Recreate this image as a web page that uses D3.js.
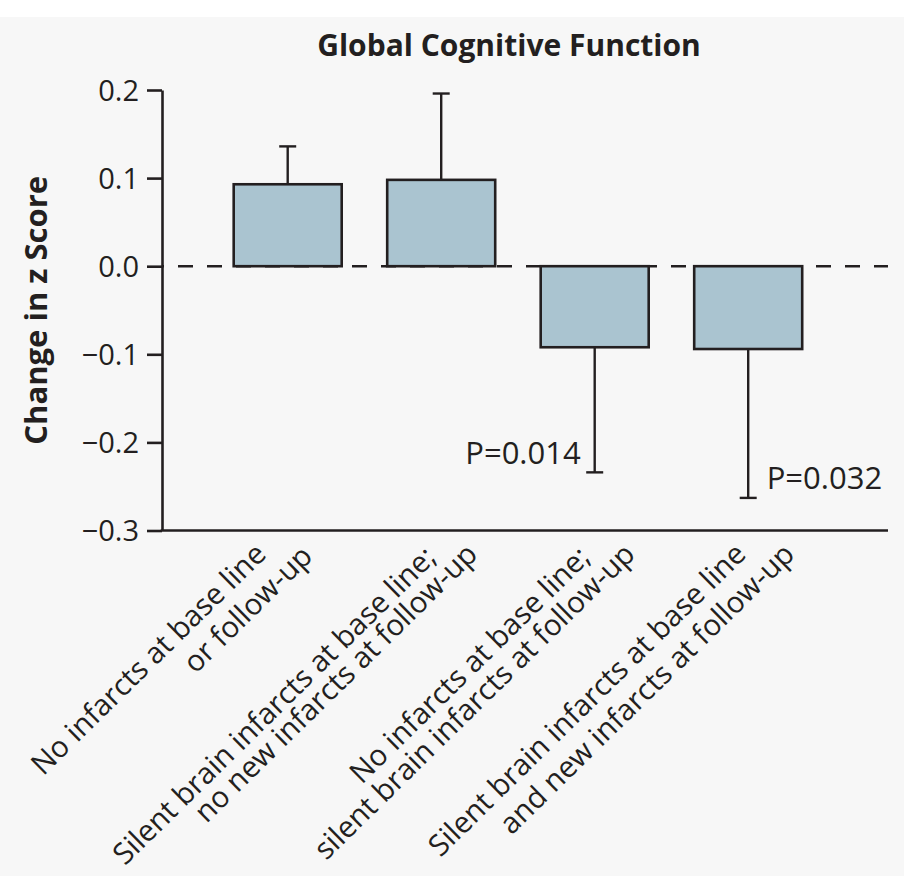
<!DOCTYPE html>
<html><head><meta charset="utf-8">
<script src="https://cdn.jsdelivr.net/npm/d3@7"></script>
<style>html,body{margin:0;padding:0;background:#f7f7f7;} svg{display:block;}</style>
</head><body>
<svg id="chart" width="904" height="876"></svg>
<script>
// ---- data ----
const chartTitle = "Global Cognitive Function";
const yAxisTitle = "Change in z Score";
const categories = ["A", "B", "C", "D"];
const categoryLabels = [
  ["No infarcts at base line", "or follow-up"],
  ["Silent brain infarcts at base line;", "no new infarcts at follow-up"],
  ["No infarcts at base line;", "silent brain infarcts at follow-up"],
  ["Silent brain infarcts at base line", "and new infarcts at follow-up"]
];
const meanChange = [0.093, 0.098, -0.092, -0.094];
const errorEnd = [0.136, 0.196, -0.234, -0.263];
const pLabels = [null, null, "P=0.014", "P=0.032"];
const yTickValues = [0.2, 0.1, 0.0, -0.1, -0.2, -0.3];

// ---- layout (not data) ----
const ink = "#231f20";
const barFill = "#aac4d0";
const font = "'Open Sans', 'Noto Sans', sans-serif";
const axisX = 162, axisRight = 888;
const labelShift = [[-20, 26.5], [-3.5, 38], [-3, 42], [-0.5, 48]];
const labelBase = [[556, 558], [559, 556], [559, 556], [556, 556]];
const labelAngle = -44.5;
const pSide = [0, 0, -1, 1];

const svg = d3.select("#chart");
svg.append("rect").attr("width", 904).attr("height", 876).attr("fill", "#f7f7f7");
svg.append("rect").attr("width", 904).attr("height", 17).attr("fill", "#ffffff");

const x = d3.scaleBand().domain(categories).range([210.95, 824.95])
  .paddingInner(0.2964).paddingOuter(0.1482);
const y = d3.scaleLinear().domain([-0.3, 0.2]).range([530.5, 90]);

// title
svg.append("text").attr("x", 509).attr("y", 56).attr("text-anchor", "middle")
  .attr("font-family", font).attr("font-weight", 700).attr("font-size", 30)
  .attr("fill", ink).text(chartTitle);

// y title
svg.append("text").attr("transform", `translate(47,${(y(0.2)+y(-0.3))/2}) rotate(-90)`)
  .attr("text-anchor", "middle").attr("font-family", font).attr("font-weight", 700)
  .attr("font-size", 31).attr("fill", ink).text(yAxisTitle);

// dashed zero line
svg.append("line").attr("x1", axisX).attr("x2", axisRight)
  .attr("y1", y(0)).attr("y2", y(0))
  .attr("stroke", ink).attr("stroke-width", 2.4)
  .attr("stroke-dasharray", "15,14").attr("stroke-dashoffset", 13);

const g = svg.append("g");
const idx = d3.range(categories.length);

// error bars
g.selectAll("line.err").data(idx).join("line").attr("class", "err")
  .attr("x1", i => x(categories[i]) + x.bandwidth()/2)
  .attr("x2", i => x(categories[i]) + x.bandwidth()/2)
  .attr("y1", i => y(meanChange[i])).attr("y2", i => y(errorEnd[i]))
  .attr("stroke", ink).attr("stroke-width", 2.4);
g.selectAll("line.cap").data(idx).join("line").attr("class", "cap")
  .attr("x1", i => x(categories[i]) + x.bandwidth()/2 - 8.5)
  .attr("x2", i => x(categories[i]) + x.bandwidth()/2 + 8.5)
  .attr("y1", i => y(errorEnd[i])).attr("y2", i => y(errorEnd[i]))
  .attr("stroke", ink).attr("stroke-width", 2.4);

// bars
g.selectAll("rect.bar").data(idx).join("rect").attr("class", "bar")
  .attr("x", i => x(categories[i]))
  .attr("width", x.bandwidth())
  .attr("y", i => y(Math.max(0, meanChange[i])))
  .attr("height", i => Math.abs(y(meanChange[i]) - y(0)))
  .attr("fill", barFill).attr("stroke", ink).attr("stroke-width", 2.6);

// p-value labels
g.selectAll("text.p").data(idx.filter(i => pLabels[i])).join("text").attr("class", "p")
  .attr("x", i => x(categories[i]) + x.bandwidth()/2 + (pSide[i] < 0 ? -14 : 18.5))
  .attr("y", i => y(errorEnd[i]) - 8.5)
  .attr("text-anchor", i => pSide[i] < 0 ? "end" : "start")
  .attr("font-family", font).attr("font-size", 31).attr("fill", ink)
  .text(i => pLabels[i]);

// y axis
const yAxis = d3.axisLeft(y).tickValues(yTickValues).tickFormat(d3.format(".1f"))
  .tickSize(15).tickSizeOuter(0).tickPadding(8);
const ya = svg.append("g").attr("transform", `translate(${axisX},0)`).call(yAxis);
ya.select(".domain").attr("stroke", ink).attr("stroke-width", 2.6);
ya.selectAll(".tick line").attr("stroke", ink).attr("stroke-width", 2.6);
ya.selectAll(".tick text").attr("font-family", font).attr("font-size", 29)
  .attr("fill", ink).attr("dy", "0.36em");

// x axis line
svg.append("line").attr("x1", axisX - 1.3).attr("x2", axisRight)
  .attr("y1", y(-0.3)).attr("y2", y(-0.3))
  .attr("stroke", ink).attr("stroke-width", 2.6);

// category labels
idx.forEach(i => {
  const cx = x(categories[i]) + x.bandwidth()/2;
  categoryLabels[i].forEach((line, j) => {
    const lx = cx + labelShift[i][j], ly = labelBase[i][j];
    svg.append("text").attr("x", lx).attr("y", ly)
      .attr("transform", `rotate(${labelAngle},${lx},${ly})`)
      .attr("text-anchor", "end").attr("font-family", font).attr("font-size", 29.5)
      .attr("fill", ink).text(line);
  });
});
</script>
</body></html>
